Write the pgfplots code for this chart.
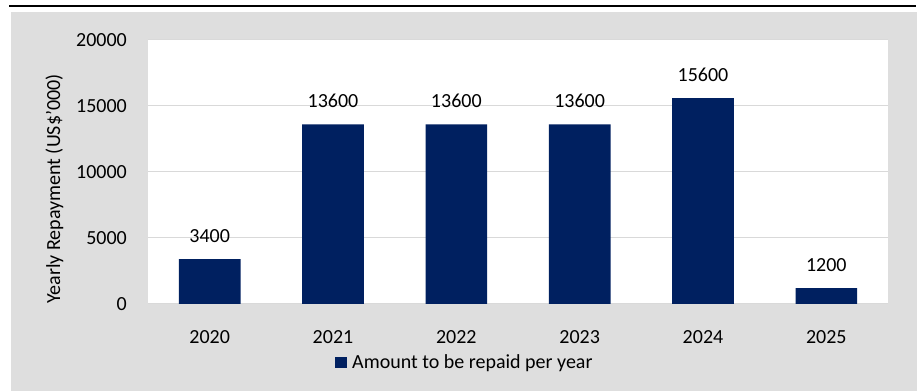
\documentclass[border=0pt]{standalone}
\usepackage{fontspec}
\setmainfont{Carlito}
\usepackage{pgfplots}
\pgfplotsset{compat=1.18}
\definecolor{navy}{HTML}{002060}
\definecolor{bgc}{HTML}{DEDEDE}
\definecolor{gridc}{HTML}{D9D9D9}
\begin{document}
\begin{tikzpicture}
\useasboundingbox (0,0) rectangle (919pt,391pt);
\fill[bgc] (11.3pt,0pt) rectangle (916.7pt,378.7pt);
\draw[black, line width=2pt] (9pt,385pt) -- (916pt,385pt);
\begin{axis}[
  at={(148pt,87pt)}, anchor=south west,
  scale only axis, width=740pt, height=264pt,
  xmin=-0.5, xmax=5.5, ymin=0, ymax=20000,
  ybar, bar width=0.5,
  xtick={0,1,2,3,4,5},
  xticklabels={2020,2021,2022,2023,2024,2025},
  ytick={0,5000,10000,15000,20000},
  scaled y ticks=false,
  yticklabel={\pgfmathprintnumber[fixed,precision=0,1000 sep={}]{\tick}},
  ymajorgrids, grid style={draw=gridc, line width=1pt},
  axis line style={draw=none}, tick style={draw=none},
  axis background/.style={fill=white},
  font=\fontsize{20}{24}\selectfont,
  /pgf/number format/assume math mode=true,
  /pgf/number format/1000 sep={},
  yticklabel style={anchor=east, inner sep=0pt, xshift=-21pt},
  xticklabel style={anchor=north, inner sep=0pt, yshift=-22pt},
  ylabel={Yearly Repayment (US\$'000)},
  ylabel style={at={(axis description cs:-0.1189,0.4356)}, anchor=base, rotate=0},
  nodes near coords={\pgfmathprintnumber[fixed,precision=0,1000 sep={}]{\pgfplotspointmeta}},
  every node near coord/.append style={anchor=south, inner sep=0pt, yshift=16.5pt, text=black},
  legend style={draw=none, fill=none, inner sep=0pt, at={(axis description cs:0.2527,-0.2216)}, anchor=west, font=\fontsize{20}{24}\selectfont, nodes={inner sep=0pt}},
  legend image code/.code={\fill[navy] (0pt,-5.85pt) rectangle (11.7pt,5.85pt);},
  /tikz/every odd column/.style={column sep=5.3pt},
]
\addplot[fill=navy, draw=none] coordinates {(0,3400) (1,13600) (2,13600) (3,13600) (4,15600) (5,1200)};
\addlegendentry{Amount to be repaid per year}
\end{axis}
\end{tikzpicture}
\end{document}
